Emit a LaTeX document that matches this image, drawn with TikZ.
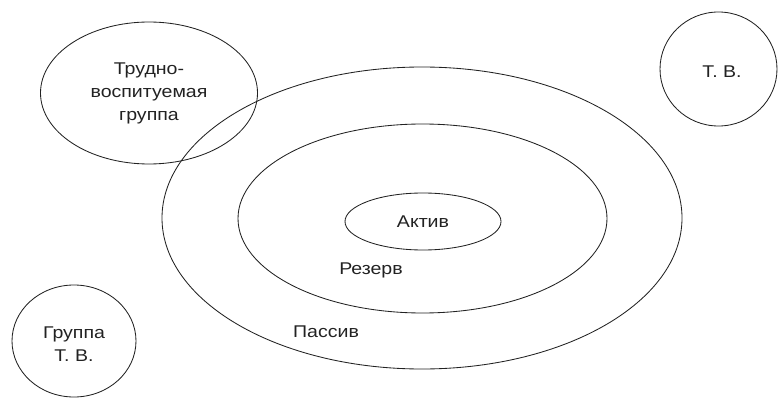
\documentclass[tikz,border=0pt]{standalone}
\usepackage{fontspec}
\setmainfont[FakeStretch=1.15]{Liberation Sans}
\usetikzlibrary{shapes.geometric}
\definecolor{ink}{HTML}{222222}
\tikzset{
  ring/.style={draw=ink, line width=0.85pt, ellipse, inner sep=0pt, text=ink, align=center},
  lbl/.style={text=ink, inner sep=0pt, align=center},
}
\begin{document}
\begin{tikzpicture}[x=1pt,y=-1pt, font=\fontsize{17}{23}\selectfont]
\useasboundingbox (0,0) rectangle (778,398);
\node[ring, minimum width=520pt, minimum height=302pt] (passive) at (422,218) {};
\node[ring, minimum width=369pt, minimum height=189pt] (reserve) at (422.5,218.5) {};
\node[ring, minimum width=156pt, minimum height=57pt] (active) at (423,221.5) {Актив};
\node[ring, minimum width=217pt, minimum height=142pt] (hard) at (149,93) {Трудно-\\воспитуемая\\группа};
\node[ring, minimum width=117pt, minimum height=114pt] (tv) at (718.5,69) {};
\node[lbl] (tvtext) at (722,72) {Т. В.};
\node[ring, minimum width=124pt, minimum height=112pt] (group) at (74,341) {};
\node[lbl] (grouptext) at (74,344.5) {Группа\\Т. В.};
\node[lbl] (reservetext) at (371,270) {Резерв};
\node[lbl] (passivetext) at (326,332) {Пассив};
\end{tikzpicture}
\end{document}
